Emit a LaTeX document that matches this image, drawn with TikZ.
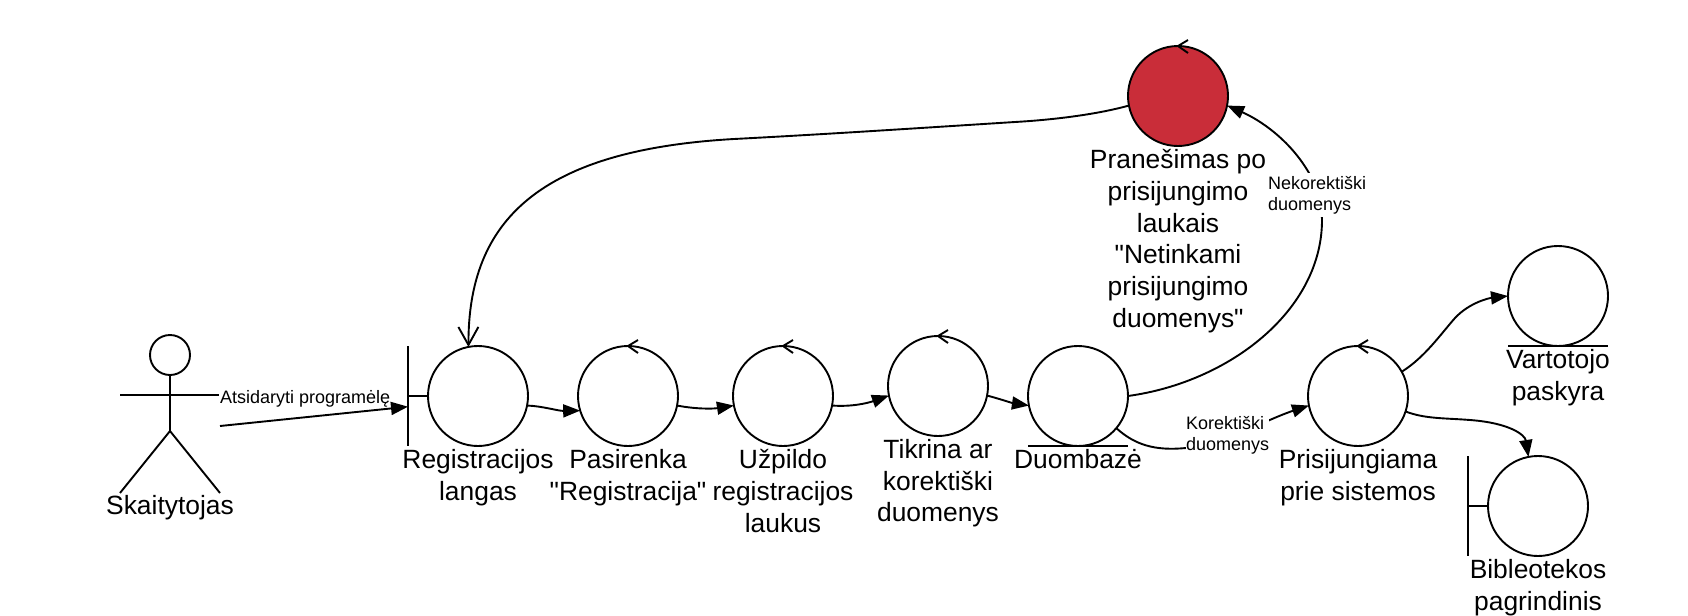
\documentclass[tikz,border=0pt]{standalone}
\usepackage{fontspec}
\setmainfont{Liberation Sans}[Ligatures=TeXOff]
\usetikzlibrary{positioning,arrows.meta}
\definecolor{alertred}{RGB}{201,45,57}
\tikzset{
  obj/.style={draw,circle,inner sep=0pt,outer sep=0pt,minimum size=50pt},
  lbl/.style={align=center,inner sep=0pt,outer sep=0pt,
    font=\fontsize{13.2}{15.9}\selectfont},
  edgelbl/.style={fill=white,align=left,inner xsep=0pt,inner ysep=1.5pt,outer sep=0pt,
    font=\fontsize{9}{10.7}\selectfont},
  flow/.style={-{Triangle[length=8.5pt,width=6.5pt]}},
  back/.style={-{Straight Barb[length=9pt,width=10pt]}}
}
\begin{document}
\begin{tikzpicture}[x=0.5pt,y=-0.5pt,line width=0.95pt]
   \useasboundingbox (0,0) rectangle (1688,616);
   % objects
   \node[obj] (reg) at (478,396) {};
   \node[obj] (pas) at (628,396) {};
   \node[obj] (upd) at (783,396) {};
   \node[obj] (tik) at (938,386) {};
   \node[obj] (duom) at (1078,396) {};
   \node[obj] (pris) at (1358,396) {};
   \node[obj] (vart) at (1558,296) {};
   \node[obj] (bibl) at (1538,506) {};
   \node[obj,fill=alertred] (pran) at (1178,96) {};
   % names below the circles
   \node[lbl,below=1.6pt of reg] (reglbl) {Registracijos\\langas};
   \node[lbl,below=1.6pt of pas] (paslbl) {Pasirenka\\"Registracija"};
   \node[lbl,below=1.6pt of upd] (updlbl) {Užpildo\\registracijos\\laukus};
   \node[lbl,below=1.6pt of tik] (tiklbl) {Tikrina ar\\korektiški\\duomenys};
   \node[lbl,below=1.6pt of duom] (duomlbl) {Duombazė};
   \node[lbl,below=1.6pt of pris] (prislbl) {Prisijungiama\\prie sistemos};
   \node[lbl,below=1.6pt of vart] (vartlbl) {Vartotojo\\paskyra};
   \node[lbl,below=1.6pt of bibl] (bibllbl) {Bibleotekos\\pagrindinis};
   \node[lbl,below=1.6pt of pran] (pranlbl) {Pranešimas po\\prisijungimo\\laukais\\"Netinkami\\prisijungimo\\duomenys"};
   % boundary bars and entity lines
   \draw (reg.west) -- ++(-20,0) ++(0,-50) -- ++(0,100);
   \draw (bibl.west) -- ++(-20,0) ++(0,-50) -- ++(0,100);
   \draw (duom.south) ++(-50,0) -- ++(100,0);
   \draw (vart.south) ++(-50,0) -- ++(100,0);
   % control marks
   \draw (pas.north) ++(10,-6) -- ++(-10,6) -- ++(10,7);
   \draw (upd.north) ++(10,-6) -- ++(-10,6) -- ++(10,7);
   \draw (tik.north) ++(10,-6) -- ++(-10,6) -- ++(10,7);
   \draw (pris.north) ++(10,-6) -- ++(-10,6) -- ++(10,7);
   \draw (pran.north) ++(10,-6) -- ++(-10,6) -- ++(10,7);
   % actor
   \node[draw,circle,inner sep=0pt,outer sep=0pt,minimum size=20pt] (head) at (170,355) {};
   \coordinate (hip) at (170,431);
   \coordinate (armL) at (120,395);
   \coordinate (armR) at (219,395);
   \coordinate (legL) at (120,493);
   \coordinate (legR) at (220,493);
   \draw (head.south) -- (hip);
   \draw (armL) -- (armR);
   \draw (legL) -- (hip) -- (legR);
   \node[lbl,below=1.2pt of hip |- legL] (actorlbl) {Skaitytojas};
   \coordinate (actorout) at (220,426);
   \coordinate (regin) at (408,406.7);
   \draw[flow] (actorout) -- (regin);
   \node[edgelbl,anchor=base west,inner ysep=0pt] (openlbl) at (220,403) {Atsidaryti programėlę};
   % main flow
   \draw[flow] (reg.-11.5) .. controls (542,406) and (558,411) .. (pas.197);
   \draw[flow] (pas.-11.5) .. controls (695,409) and (712,409) .. (upd.191);
   \draw[flow] (upd.-11.5) .. controls (852,407) and (868,403) .. (tik.191);
   \draw[flow] (tik.-11.5) .. controls (1000,399) and (1012,403) .. (duom.191);
   \draw[flow] (duom.-40) .. controls (1135,445) and (1155,451) .. (1186,448)
      .. controls (1225,444) and (1265,420) .. (pris.191);
   \draw[flow] (duom.0) .. controls (1230,382) and (1322,310) .. (1322,220)
      .. controls (1322,205) and (1318,190) .. (1309,173)
      .. controls (1290,140) and (1260,120) .. (pran.-11);
   \draw[back] (pran.191) .. controls (1095,115) and (1050,120) .. (1015,122)
      .. controls (920,128) and (830,134) .. (734,139)
      .. controls (540,150) and (468,220) .. (reg.101);
   \draw[flow] (pris.29) .. controls (1425,357) and (1440,335) .. (1455,318)
      .. controls (1470,302) and (1490,298) .. (vart.180);
   \draw[flow] (pris.-18) .. controls (1425,419) and (1445,418) .. (1470,420)
      .. controls (1510,423) and (1525,435) .. (bibl.101);
   % connector labels
   \node[edgelbl,anchor=north west] (koklbl) at (1186,413) {Korektiški\\duomenys};
   \node[edgelbl,anchor=north west] (neklbl) at (1268,173) {Nekorektiški\\duomenys};
\end{tikzpicture}
\end{document}
